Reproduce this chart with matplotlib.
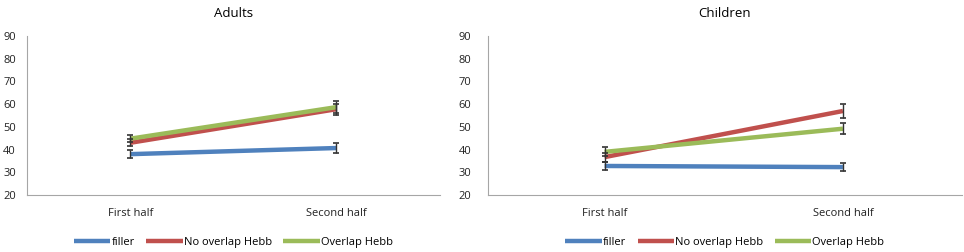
import matplotlib
matplotlib.use("Agg")
import matplotlib.pyplot as plt
import numpy as np

# Datos
halves = ["First half", "Second half"]
series = ["filler", "No overlap Hebb", "Overlap Hebb"]
colors = ["#4F81BD", "#C0504D", "#9BBB59"]

adults_filler = [38.0, 40.7]
adults_nooverlap = [43.0, 57.8]
adults_overlap = [44.8, 58.7]
adults_err = [[1.7, 2.0], [1.6, 2.5], [1.6, 2.5]]

children_filler = [32.8, 32.3]
children_nooverlap = [36.7, 57.0]
children_overlap = [39.0, 49.2]
children_err = [[1.8, 1.8], [2.0, 3.0], [2.0, 2.5]]

yticks = [20, 30, 40, 50, 60, 70, 80, 90]

plt.rcParams["font.family"] = ["Open Sans", "DejaVu Sans"]
fig = plt.figure(figsize=(9.64, 2.52), dpi=100)
ax1 = fig.add_axes([0.028, 0.226, 0.428, 0.631])
ax2 = fig.add_axes([0.506, 0.226, 0.492, 0.631])

panels = [
    (ax1, "Adults", [adults_filler, adults_nooverlap, adults_overlap], adults_err, 8, (-0.5, 1.5)),
    (ax2, "Children", [children_filler, children_nooverlap, children_overlap], children_err, 12, (-0.49, 1.5)),
]

x = np.arange(len(halves))
for ax, title, vals, errs, ypad, xl in panels:
    for name, v, e, c in zip(series, vals, errs, colors):
        ax.plot(x, v, color=c, lw=3.2, label=name, solid_capstyle="butt", zorder=2)
        ax.errorbar(x, v, yerr=e, fmt="none", ecolor="#333333", elinewidth=1.0,
                    capsize=2.5, capthick=1.2, zorder=3)
    ax.set_xlim(*xl)
    ax.set_ylim(20, 90)
    ax.set_yticks(yticks)
    ax.set_xticks(x)
    ax.set_xticklabels(halves)
    ax.tick_params(length=0, labelsize=8, colors="#222222")
    ax.tick_params(axis="y", pad=ypad)
    ax.tick_params(axis="x", pad=9)
    for s in ["top", "right"]:
        ax.spines[s].set_visible(False)
    for s in ["left", "bottom"]:
        ax.spines[s].set_color("#A6A6A6")
        ax.spines[s].set_linewidth(0.8)
    ax.set_title(title, fontsize=9.5, pad=14)
    ax.legend(loc="upper center", bbox_to_anchor=(0.5, -0.2), ncol=3, frameon=False,
              fontsize=8, handlelength=3.3, handletextpad=0.1, columnspacing=1.0)

fig.savefig("out.png", dpi=100)
